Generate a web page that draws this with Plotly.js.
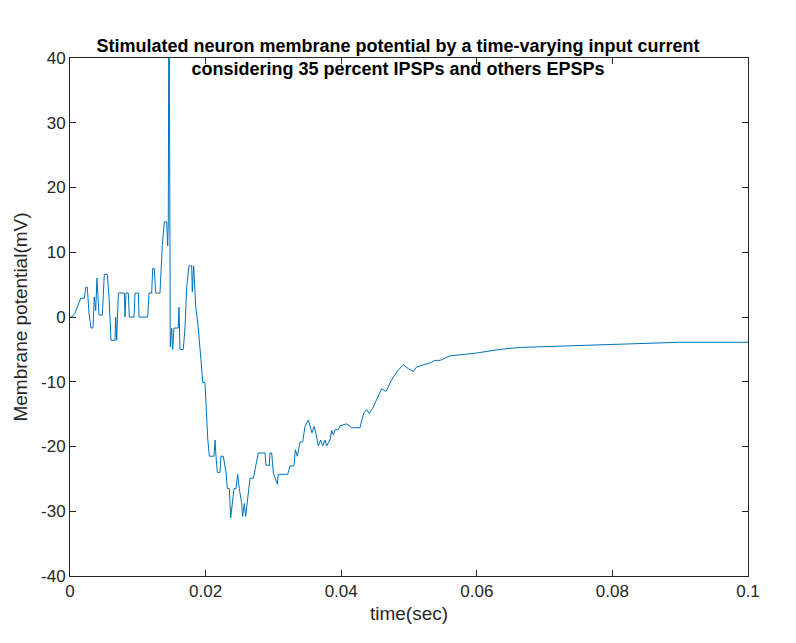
<!DOCTYPE html>
<html>
<head>
<meta charset="utf-8">
<script src="https://cdn.plot.ly/plotly-3.0.1.min.js"></script>
<style>
  html, body { margin: 0; padding: 0; background: #fff; }
  #plot { width: 796px; height: 643px; }
</style>
</head>
<body>
<div id="plot"></div>
<script>
// time in ms, potential in mV
const timeMs = [0, 0.25, 0.74, 1.03, 1.58, 2.11, 2.32, 2.55, 2.80, 3.10, 3.39, 3.58, 3.79, 3.98, 4.28, 4.77,
  5.06, 5.50, 5.75, 6.05, 6.64, 6.74, 6.89, 7.13, 8.01, 8.11, 8.26, 8.60, 8.75, 9.44, 9.59, 10.08, 10.18,
  11.46, 11.65, 12.05, 12.20, 12.43, 12.64, 13.27, 13.42, 13.61, 13.91, 14.26, 14.41, 14.50, 14.60, 14.79,
  15.00, 15.14, 15.34, 15.97, 16.08, 16.22, 16.71, 16.96, 17.21, 17.55, 17.95, 18.04, 18.24, 18.54, 18.88,
  19.17, 19.42, 19.57, 19.91, 20.31, 20.55, 21.24, 21.39, 21.53, 21.73, 22.12, 22.27, 22.61, 23.01, 23.20,
  23.50, 23.70, 24.00, 24.19, 24.48, 24.73, 24.97, 25.32, 25.47, 25.71, 25.91, 26.30, 26.55, 27.04, 27.77,
  28.76, 28.91, 29.40, 29.50, 29.75, 29.99, 30.58, 30.72, 32.11, 32.45, 33.04, 33.23, 33.53, 33.92, 34.32,
  34.66, 35.15, 35.40, 35.69, 35.99, 36.28, 36.62, 36.98, 37.27, 37.61, 37.86, 38.35, 38.60, 38.84, 39.09,
  39.57, 39.82, 40.81, 41.55, 42.77, 43.02, 43.36, 43.76, 44.14, 44.65, 44.99, 45.47, 45.97, 46.61, 47.20,
  47.68, 48.42, 49.16, 49.90, 50.63, 51.14, 52.11, 53.10, 53.83, 54.57, 56.05, 59.73, 63.42, 66.37, 72.27,
  78.17, 89.97, 100];
const potentialMv = [0, 0, 0.6, 1.5, 2.9, 2.9, 4.6, 4.6, 0.6, -1.7, -1.7, 3.1, 1.0, 6, 0.3, 0.3,
  6.6, 6.6, 3.1, -3.6, -3.6, 0, -3.6, 3.7, 3.7, 0, 3.7, 3.7, 0, 0, 3.7, 3.7, 0,
  0, 3.7, 3.7, 7.5, 7.5, 3.7, 3.7, 7.5, 11, 14.7, 14.7, 11, 14.7, 60, -4.6,
  -1.7, -5, -1.7, -1.7, 1.5, -5, -5, -1.7, 4.6, 7.9, 7.9, 3.9, 7.9, 1.7, -1.3,
  -4.3, -7.9, -10.1, -10.1, -18.7, -21.5, -21.5, -19, -21.5, -24, -24, -21.5, -21.5, -24, -26.5,
  -26.5, -31, -28, -26.5, -26.5, -24.3, -26.5, -28.8, -30.8, -28.8, -30.8, -26.7, -24.9, -24.9, -21,
  -21, -22.9, -22.9, -21, -21, -24.1, -25.8, -24.3, -24.3, -23, -23, -20.5, -21.5, -19.3, -19.3,
  -16.9, -15.9, -16.9, -17.9, -16.9, -18, -19.9, -19, -19.9, -19, -19.9, -19, -17.5, -18.2, -17.4,
  -17.4, -16.8, -16.5, -17.1, -17.1, -16, -14.8, -14.3, -14.9, -14.1, -13.2, -12.2, -11.1, -11.5, -10.2,
  -9.3, -8.2, -7.4, -8.0, -8.4, -7.7, -7.4, -7.1, -6.7, -6.7, -6, -5.6, -5, -4.7, -4.5,
  -4.3, -3.9, -3.9];
const xTicks = [0, 0.02, 0.04, 0.06, 0.08, 0.1];
const xTickText = ['0', '0.02', '0.04', '0.06', '0.08', '0.1'];
const yTicks = [-40, -30, -20, -10, 0, 10, 20, 30, 40];
const yTickText = ['-40', '-30', '-20', '-10', '0', '10', '20', '30', '40'];

const timeSec = timeMs.map(t => t / 1000);
const fontFam = 'Liberation Sans, Arial';

const axisStyle = {
    showline: true, mirror: 'ticks', linecolor: '#262626', linewidth: 1,
    ticks: 'inside', ticklen: 6, tickcolor: '#262626',
    showgrid: false, zeroline: false,
    tickfont: { family: fontFam, size: 17, color: '#262626' }
};

Plotly.newPlot('plot', [{
    x: timeSec, y: potentialMv, type: 'scatter', mode: 'lines',
    line: { color: '#0072BD', width: 1 }, hoverinfo: 'skip'
}], {
    width: 796, height: 643,
    margin: { l: 70, r: 48, t: 58, b: 67 },
    paper_bgcolor: '#fff', plot_bgcolor: '#fff',
    showlegend: false,
    title: {
        text: '<b>Stimulated neuron membrane potential by a time-varying input current<br>considering 35 percent IPSPs and others EPSPs</b>',
        font: { family: fontFam, size: 18, color: '#000' },
        x: 0.5, xanchor: 'center', yref: 'paper', y: 1, yanchor: 'bottom',
        pad: { b: 6 }
    },
    xaxis: Object.assign({}, axisStyle, {
        range: [0, 0.1], tickvals: xTicks, ticktext: xTickText,
        title: { text: 'time(sec)', font: { family: fontFam, size: 19, color: '#262626' }, standoff: 6 }
    }),
    yaxis: Object.assign({}, axisStyle, {
        range: [-40, 40], tickvals: yTicks, ticktext: yTickText,
        title: { text: 'Membrane potential(mV)', font: { family: fontFam, size: 19, color: '#262626' }, standoff: 8 }
    })
}, { displayModeBar: false, staticPlot: true });
</script>
</body>
</html>
